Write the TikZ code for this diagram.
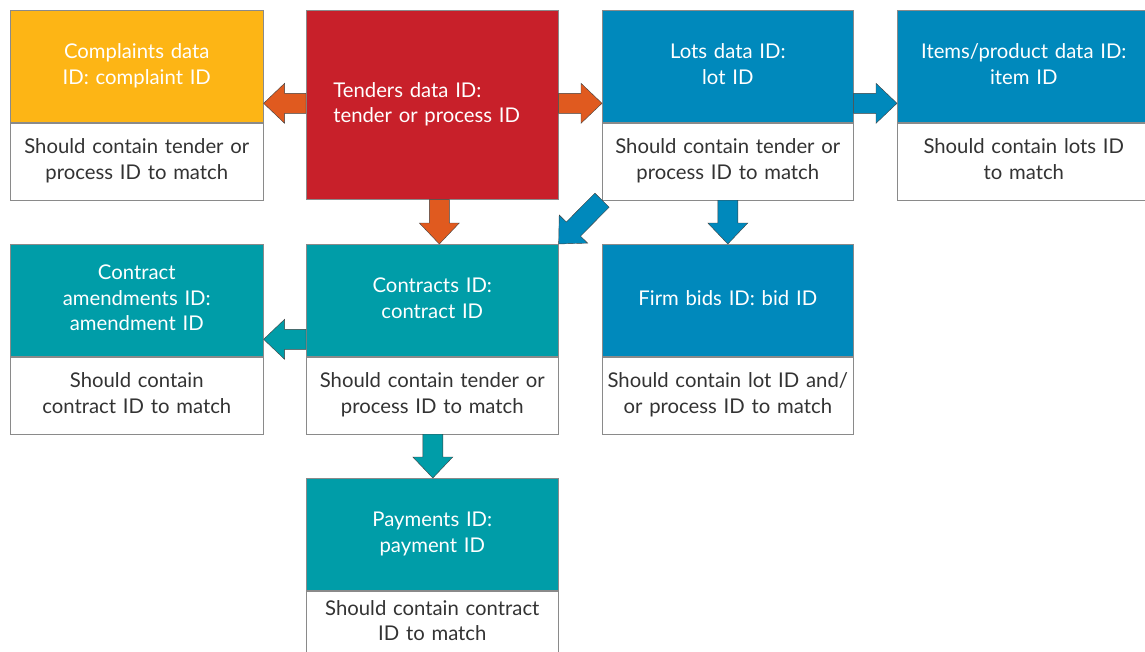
\documentclass[tikz,border=0pt]{standalone}
\usepackage{fontspec}
\setmainfont{Lato}
\usetikzlibrary{calc}
\definecolor{cyel}{HTML}{FDB515}
\definecolor{cred}{HTML}{C8202A}
\definecolor{cblue}{HTML}{0089BC}
\definecolor{cteal}{HTML}{009DA8}
\definecolor{corange}{HTML}{E05A1F}
\definecolor{ctext}{HTML}{333333}
\definecolor{cborder}{HTML}{8A8A8A}
\tikzset{
  card/.style={draw=cborder, line width=0.6pt, minimum width=253pt, minimum height=112pt,
    text width=246pt, align=center, text=white, inner sep=0pt, anchor=north west,
    font=\fontsize{20.3}{25.5}\selectfont,
    execute at begin node=\strut, execute at end node=\strut},
  note/.style={draw=cborder, line width=0.6pt, fill=white, minimum width=253pt, minimum height=77pt,
    text width=246pt, align=center, text=ctext, inner sep=0pt, anchor=north,
    font=\fontsize{20.3}{25.5}\selectfont,
    execute at begin node=\strut, execute at end node=\strut},
  arrowline/.style={draw=black!75, line width=0.4pt}
}
\newcommand\blockarrow[3]{%
  \path let \p1=(#1), \p2=(#2), \n1={atan2(\y2-\y1,\x2-\x1)}, \n2={veclen(\x2-\x1,\y2-\y1)} in
    \pgfextra{\pgfmathsetmacro\BAtmpA{\n1}\pgfmathsetmacro\BAtmpB{\n2}\xdef\BAang{\BAtmpA}\xdef\BAlen{\BAtmpB}};
  \begin{scope}[shift={(#1)}, rotate=\BAang]
    \filldraw[fill=#3, arrowline] (0pt,-10pt) -- (\BAlen pt-21pt,-10pt) -- (\BAlen pt-21pt,-20pt)
      -- (\BAlen pt,0pt) -- (\BAlen pt-21pt,20pt) -- (\BAlen pt-21pt,10pt) -- (0pt,10pt) -- cycle;
  \end{scope}}
\begin{document}
\begin{tikzpicture}[x=1pt,y=-1pt]
\useasboundingbox[fill=white] (0,0) rectangle (1145,651);
% top row
\node[card, fill=cyel] (comp) at (10,10) {Complaints data\\ID: complaint ID};
\node[note] (compn) at (comp.south) {Should contain tender or\\process ID to match};
\node[card, fill=cred, minimum width=252pt, minimum height=189pt, text width=198pt, align=left] (tend) at (306,10) {Tenders data ID:\\tender or process ID};
\node[card, fill=cblue, minimum width=251pt] (lots) at (602,10) {Lots data ID:\\lot ID};
\node[note, minimum width=251pt] (lotsn) at (lots.south) {Should contain tender or\\process ID to match};
\node[card, fill=cblue, minimum width=253pt] (items) at (897,10) {Items/product data ID:\\item ID};
\node[note] (itemsn) at (items.south) {Should contain lots ID\\to match};
% middle row
\node[card, fill=cteal] (amend) at (10,244) {Contract\\amendments ID:\\amendment ID};
\node[note] (amendn) at (amend.south) {Should contain\\contract ID to match};
\node[card, fill=cteal, minimum width=252pt] (contr) at (306,244) {Contracts ID:\\contract ID};
\node[note, minimum width=252pt] (contrn) at (contr.south) {Should contain tender or\\process ID to match};
\node[card, fill=cblue, minimum width=251pt] (firm) at (602,244) {Firm bids ID: bid ID};
\node[note, minimum width=251pt] (firmn) at (firm.south) {Should contain lot ID and/\\or process ID to match};
% bottom
\node[card, fill=cteal, minimum width=252pt] (pay) at (306,478) {Payments ID:\\payment ID};
\node[note, minimum width=252pt, minimum height=64pt] (payn) at (pay.south) {Should contain contract\\ID to match};
% arrows
\blockarrow{$(tend.west)+(0,-1.5)$}{$(tend.west -| comp.east)+(0,-1.5)$}{corange}
\blockarrow{$(tend.east)+(0,-1.5)$}{$(tend.east -| lots.west)+(0,-1.5)$}{corange}
\blockarrow{$(lots.east)+(0,37)$}{$(items.west)+(0,37)$}{cblue}
\blockarrow{$(tend.south)+(7,0)$}{$(contr.north)+(7,0)$}{corange}
\blockarrow{lotsn.south}{firm.north}{cblue}
\blockarrow{lotsn.south west}{contr.north east}{cblue}
\blockarrow{$(contr.west)+(0,39)$}{$(contr.west -| amend.east)+(0,39)$}{cteal}
\blockarrow{$(contrn.south)+(0.5,0)$}{$(pay.north)+(0.5,0)$}{cteal}
\end{tikzpicture}
\end{document}
